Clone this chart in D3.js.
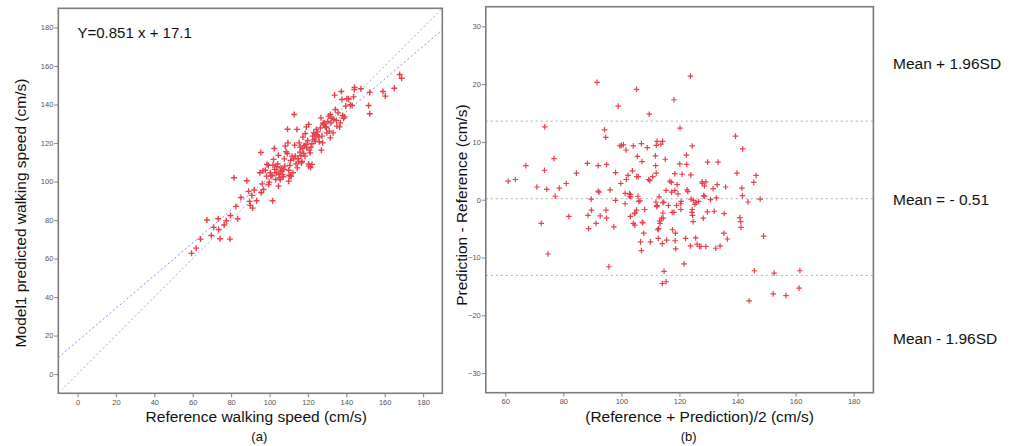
<!DOCTYPE html>
<html>
<head>
<meta charset="utf-8">
<script src="https://cdn.jsdelivr.net/npm/d3@7"></script>
<style>
  html, body { margin: 0; padding: 0; background: #fff; }
  svg { display: block; font-family: "Liberation Sans", Arial, sans-serif; }
</style>
</head>
<body>
<svg id="chart" width="1012" height="446"></svg>
<script>
// ---------------- DATA ----------------
// Panel (a): reference walking speed vs Model1 predicted walking speed (cm/s)
const refSpeed = [59.4,61.8,64.1,67.4,69.7,70.9,73.3,73.5,74.3,76.4,77.5,79.4,79.7,81.5,82.5,83.4,85.1,88.2,89.1,89.6,
  90.0,90.8,91.2,92.1,93.3,95.0,95.5,95.7,96.2,96.6,96.9,97.8,98.5,98.7,99.4,99.9,100.4,100.7,101.3,101.6,
  101.8,102.1,102.5,102.7,103.2,103.5,103.9,104.2,104.6,104.9,105.3,105.6,106.0,106.5,106.8,107.2,107.7,108.0,108.2,108.7,
  109.3,109.4,109.6,110.0,110.3,110.6,111.0,111.3,111.7,112.2,112.6,112.9,113.1,113.4,113.8,114.3,114.5,114.8,115.2,115.5,
  115.9,116.0,116.4,116.6,116.9,117.2,117.4,117.8,118.1,118.5,118.6,119.0,119.2,119.5,119.9,120.4,120.7,121.2,121.4,121.6,
  122.1,122.5,123.0,123.3,123.8,124.4,124.7,125.1,125.6,125.9,126.5,126.8,127.0,127.3,127.7,128.0,128.2,128.5,129.1,129.6,
  129.9,130.4,130.8,131.1,131.7,132.0,132.5,133.1,133.9,134.3,134.8,135.1,135.7,136.5,136.9,137.4,137.7,138.1,138.6,139.1,
  139.7,140.3,141.2,142.1,143.0,143.8,144.2,144.3,147.6,151.6,152.2,152.2,159.1,160.3,165.0,167.8,168.8,
  120.4,123.8,131.7,133.4,110.8,105.6,99.5,104.7,110.0,107.3,120.4,122.1];
const predSpeed = [62.7,65.4,70.1,80.0,72.0,76.2,80.7,75.1,70.3,77.4,79.6,70.1,82.4,102.0,87.1,80.7,91.7,100.4,94.9,89.7,
  87.6,92.8,86.2,95.6,90.0,104.6,115.1,94.2,98.8,105.6,95.9,105.9,102.8,108.9,108.4,99.7,104.6,102.8,103.3,90.0,
  108.5,111.5,117.2,106.3,101.1,104.6,107.7,109.1,113.6,103.7,102.0,105.4,107.1,105.4,103.7,102.5,111.8,108.0,118.4,115.5,
  114.6,127.2,120.1,105.9,103.3,108.4,111.0,102.8,113.2,104.6,111.8,134.8,118.9,113.2,109.2,127.1,107.1,112.0,110.1,120.1,
  115.3,117.9,113.4,109.7,110.4,117.2,123.1,114.6,118.6,113.2,125.0,119.4,128.4,117.5,121.3,109.1,116.3,114.9,107.3,117.9,
  119.6,123.6,125.3,121.9,121.0,127.1,123.9,125.8,123.1,120.7,127.9,133.1,116.3,123.6,120.1,130.3,129.5,130.5,128.3,128.1,
  125.3,131.2,134.0,126.2,134.8,130.5,132.9,125.3,144.9,137.4,131.7,128.8,135.7,128.4,130.5,146.8,142.6,134.3,132.9,133.6,
  139.2,143.0,143.0,139.9,139.5,144.0,147.8,148.9,148.2,139.5,146.3,135.2,146.8,144.4,148.5,155.6,153.7,
  129.7,124.5,122.7,132.3,102.8,101.1,98.5,97.6,100.2,106.3,108.0,108.9];
const fitSlope = 0.851;
const fitIntercept = 17.1;
const equationLabel = "Y=0.851 x + 17.1";

// Panel (b): Bland-Altman, mean of the two vs difference (cm/s)
const baMean = [61.0,63.5,67.1,70.9,72.4,73.5,73.6,74.3,74.7,76.8,77.2,78.6,81.0,81.9,84.5,88.3,88.5,88.7,89.6,89.7,
  91.3,91.6,92.0,92.0,92.3,92.7,94.2,94.6,94.9,94.7,94.9,95.7,96.1,97.4,98.0,98.0,98.9,99.5,99.8,100.0,
  100.7,101.3,101.3,101.6,101.7,102.3,102.8,102.8,103.1,103.1,103.2,103.8,104.1,104.1,104.5,104.6,104.7,105.2,105.2,105.3,
  105.5,105.7,105.8,106.0,106.4,106.6,106.9,106.9,107.1,107.2,107.4,107.7,108.0,108.9,109.4,109.6,109.8,110.0,110.8,111.7,
  111.8,111.9,112.0,112.0,112.3,112.2,112.3,112.5,112.7,112.8,113.0,113.2,113.3,113.6,113.8,114.1,114.2,114.3,114.3,114.4,
  114.6,114.7,114.1,115.1,115.4,115.4,115.6,116.2,116.7,117.2,117.3,117.5,117.6,118.1,118.1,118.4,118.4,118.5,118.6,118.7,
  119.0,119.2,119.5,120.1,120.2,120.4,120.5,120.6,120.9,121.6,122.1,122.4,122.5,122.6,122.9,123.8,123.8,123.9,124.0,124.3,
  124.4,124.4,124.5,124.7,124.8,125.3,125.6,125.7,126.1,126.6,126.9,127.4,127.8,127.9,128.2,128.3,128.6,128.7,129.1,129.1,
  129.6,129.7,130.7,131.6,132.0,132.5,132.7,133.0,133.3,134.0,135.3,135.4,135.9,136.5,139.3,139.8,140.8,141.1,141.2,141.5,
  141.7,141.8,143.6,144.0,145.6,145.8,146.4,147.8,149.0,152.3,152.6,156.7,161.2,161.5];
const baDiff = [3.2,3.5,5.9,2.2,-4.1,5.1,12.6,1.8,-9.4,7.1,0.6,2.0,2.8,-2.9,4.6,6.3,-2.7,-5.0,0.1,-1.8,
  -4.1,20.3,5.9,1.5,1.3,-2.8,12.1,10.8,6.1,-1.8,-3.2,-11.6,1.7,-4.7,4.7,-0.1,16.2,9.3,2.8,9.4,
  9.5,1.1,-0.7,8.6,3.5,4.2,1.0,0.6,0.9,-2.9,0.5,5.0,9.3,-4.1,-2.4,-4.4,-2.3,-1.8,19.1,4.0,
  7.5,0.6,4.0,-0.3,-0.2,-7.3,9.7,-8.8,6.6,-3.9,-4.0,-5.8,-1.7,9.0,3.5,14.8,3.3,-7.3,4.0,7.6,
  5.9,-0.4,4.6,9.4,10.1,-1.2,-1.0,-5.2,-6.7,-5.0,0.5,-3.7,-4.1,9.6,-3.2,-7.6,10.1,-2.3,-0.5,-3.2,
  -0.4,-12.4,-14.5,7.0,1.6,-14.2,-7.0,-1.0,3.2,3.0,1.3,-2.2,-5.2,17.3,-2.2,4.5,1.6,-7.1,-5.8,-8.5,
  -1.0,2.6,1.0,6.2,12.4,-0.7,-1.7,-0.3,4.4,-11.1,-6.7,7.7,6.1,1.7,1.4,21.4,-8.0,4.3,0.1,-2.2,
  9.3,-1.7,-2.7,-3.8,-0.1,-0.8,-6.6,-0.5,-7.7,-0.3,-8.1,-8.1,3.1,2.8,-3.2,0.7,2.4,0.6,3.1,-8.1,
  -2.1,6.5,0.0,1.9,-2.0,-8.4,0.3,2.6,6.5,-8.0,-5.8,-2.4,2.2,-6.8,11.0,4.6,-3.1,-3.8,-4.8,2.0,
  0.7,8.8,-0.4,-17.5,3.0,-12.3,4.2,0.1,-6.3,-16.3,-12.7,-16.6,-15.3,-12.3];
// Reference lines drawn in panel (b): upper limit, mean, lower limit
const refLines = [13.6, 0.17, -13.1];
const refLabels = ["Mean + 1.96SD", "Mean = - 0.51", "Mean - 1.96SD"];
const refLabelValues = [23.5, 0.0, -24.0];

// tick labels
const ticksA = [0, 20, 40, 60, 80, 100, 120, 140, 160, 180];
const ticksBx = [60, 80, 100, 120, 140, 160, 180];
const ticksBy = [-30, -20, -10, 0, 10, 20, 30];

const titlesA = { x: "Reference walking speed (cm/s)", y: "Model1 predicted walking speed (cm/s)", tag: "(a)" };
const titlesB = { x: "(Reference + Prediction)/2 (cm/s)", y: "Prediction - Reference (cm/s)", tag: "(b)" };

// ---------------- DRAW ----------------
const svg = d3.select("#chart");
const markColor = "#e8404c";
const frameColor = "#7c7c7c";

function crossPath(cx, cy, r) {
  return `M${cx - r},${cy}H${cx + r}M${cx},${cy - r}V${cy + r}`;
}

function panel(opt) {
  const g = svg.append("g");
  const x = d3.scaleLinear().domain(opt.xDomain).range(opt.xRange);
  const y = d3.scaleLinear().domain(opt.yDomain).range(opt.yRange);
  const clipId = opt.id + "-clip";
  svg.append("defs").append("clipPath").attr("id", clipId)
    .append("rect")
    .attr("x", opt.xRange[0]).attr("y", opt.yRange[1])
    .attr("width", opt.xRange[1] - opt.xRange[0])
    .attr("height", opt.yRange[0] - opt.yRange[1]);

  const xAxis = d3.axisBottom(x).tickValues(opt.xTicks).tickSize(4).tickPadding(2).tickFormat(d3.format("d"));
  const yAxis = d3.axisLeft(y).tickValues(opt.yTicks).tickSize(4).tickPadding(1).tickFormat(d3.format("d"));
  const gx = g.append("g").attr("transform", `translate(0,${opt.yRange[0]})`).call(xAxis);
  const gy = g.append("g").attr("transform", `translate(${opt.xRange[0]},0)`).call(yAxis);
  [gx, gy].forEach(a => {
    a.select(".domain").remove();
    a.selectAll(".tick line").attr("stroke", "#666").attr("stroke-width", 0.8);
    a.selectAll(".tick text").attr("fill", "#555").style("font-size", "7.5px");
  });

  const plot = g.append("g").attr("clip-path", `url(#${clipId})`);
  opt.drawInside(plot, x, y);

  g.append("rect")
    .attr("x", opt.xRange[0]).attr("y", opt.yRange[1])
    .attr("width", opt.xRange[1] - opt.xRange[0])
    .attr("height", opt.yRange[0] - opt.yRange[1])
    .attr("fill", "none").attr("stroke", frameColor).attr("stroke-width", 1.6);

  const cx = (opt.xRange[0] + opt.xRange[1]) / 2;
  g.append("text").attr("x", cx + opt.xTitleShift).attr("y", 422)
    .attr("text-anchor", "middle").style("font-size", "15.5px").attr("fill", "#111")
    .text(opt.titles.x);
  g.append("text").attr("x", cx + opt.tagShift).attr("y", 441)
    .attr("text-anchor", "middle").style("font-size", "13px").attr("fill", "#111")
    .text(opt.titles.tag);
  g.append("text")
    .attr("transform", `translate(${opt.yTitleX},${opt.yTitleY}) rotate(-90)`)
    .attr("text-anchor", "middle").style("font-size", "15.5px").attr("fill", "#111")
    .text(opt.titles.y);
  return { x, y, g };
}

// Panel (a)
const pa = panel({
  id: "pa",
  xDomain: [-10, 190], yDomain: [-10, 190],
  xRange: [58.3, 442.3], yRange: [393.3, 8.3],
  xTicks: ticksA, yTicks: ticksA,
  titles: titlesA, xTitleShift: 6, tagShift: 9,
  yTitleX: 26, yTitleY: 213,
  drawInside: (p, x, y) => {
    const d0 = x.domain();
    p.append("line")
      .attr("x1", x(d0[0])).attr("y1", y(d0[0]))
      .attr("x2", x(d0[1])).attr("y2", y(d0[1]))
      .attr("stroke", "#a8a8a8").attr("stroke-width", 1).attr("stroke-dasharray", "2,2.5");
    p.append("line")
      .attr("x1", x(d0[0])).attr("y1", y(fitSlope * d0[0] + fitIntercept))
      .attr("x2", x(d0[1])).attr("y2", y(fitSlope * d0[1] + fitIntercept))
      .attr("stroke", "#8a8af0").attr("stroke-width", 1).attr("stroke-dasharray", "2,2.5");
    p.selectAll("path.pt").data(refSpeed.map((v, i) => [v, predSpeed[i]]))
      .join("path").attr("class", "pt")
      .attr("d", d => crossPath(x(d[0]), y(d[1]), 3))
      .attr("stroke", markColor).attr("stroke-width", 1.4).attr("fill", "none");
  }
});
pa.g.append("text").attr("x", 77.5).attr("y", 38)
  .style("font-size", "15px").attr("fill", "#111").text(equationLabel);

// Panel (b)
const pb = panel({
  id: "pb",
  xDomain: [53.3, 186.8], yDomain: [-33.4, 33.4],
  xRange: [485.8, 873.4], yRange: [392.7, 6.7],
  xTicks: ticksBx, yTicks: ticksBy,
  titles: titlesB, xTitleShift: 20, tagShift: 9,
  yTitleX: 467, yTitleY: 205,
  drawInside: (p, x, y) => {
    p.selectAll("line.ref").data(refLines).join("line").attr("class", "ref")
      .attr("x1", x.range()[0]).attr("x2", x.range()[1])
      .attr("y1", d => y(d)).attr("y2", d => y(d))
      .attr("stroke", "#b0b0b0").attr("stroke-width", 1).attr("stroke-dasharray", "2,3");
    p.selectAll("path.pt").data(baMean.map((v, i) => [v, baDiff[i]]))
      .join("path").attr("class", "pt")
      .attr("d", d => crossPath(x(d[0]), y(d[1]), 2.8))
      .attr("stroke", markColor).attr("stroke-width", 1.2).attr("fill", "none");
  }
});
pb.g.selectAll("text.reflab").data(refLabels).join("text").attr("class", "reflab")
  .attr("x", 893).attr("y", (d, i) => pb.y(refLabelValues[i]) + 5.5)
  .style("font-size", "15.5px").attr("fill", "#111").text(d => d);
</script>
</body>
</html>
